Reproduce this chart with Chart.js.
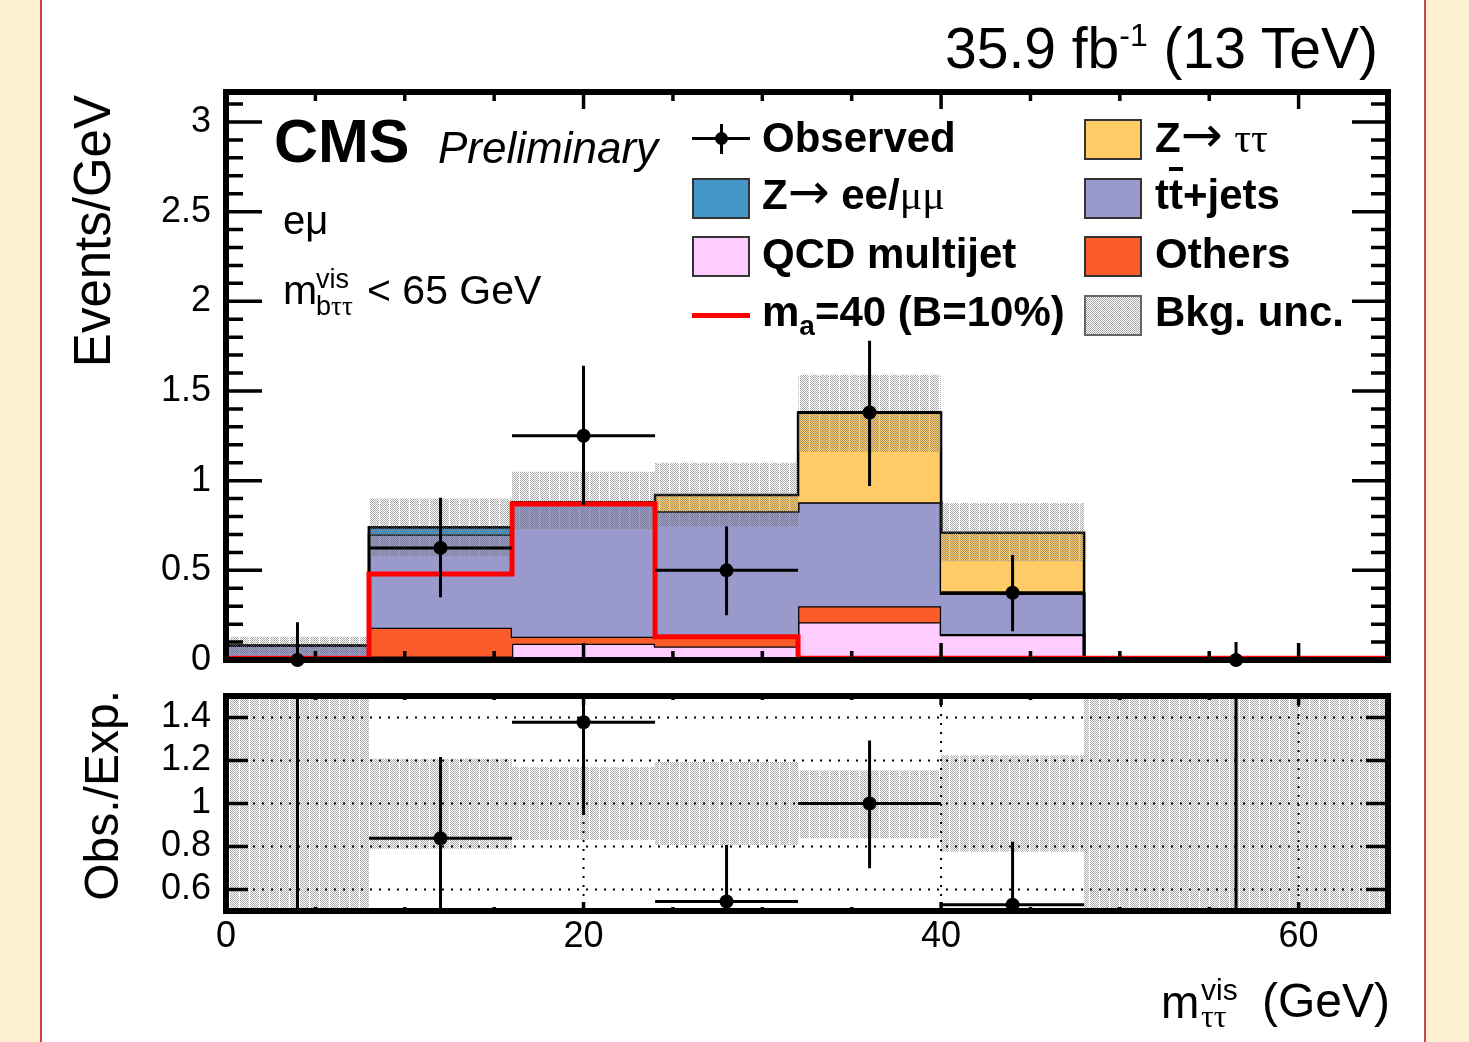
<!DOCTYPE html>
<html>
<head>
<meta charset="utf-8">
<script src="https://cdn.jsdelivr.net/npm/chart.js@4.4.0/dist/chart.umd.min.js"></script>
<style>
  body { margin: 0; width: 1469px; height: 1042px; background: #fdf0d1; position: relative; overflow: hidden;
         font-family: "Liberation Sans", Arial, Helvetica, sans-serif; }
  #sheet { position: absolute; left: 40px; top: 0; width: 1386px; height: 1042px; background: #fff;
           border-left: 2px solid #c8474a; border-right: 2px solid #c8474a; box-sizing: border-box; }
  canvas { position: absolute; left: 0; }
  #main { top: 0; }
  #ratio { top: 680px; }
  .t { position: absolute; white-space: nowrap; line-height: 1; color: #000; z-index: 5; }
  .b { font-weight: bold; }
  .arr { font-family: "DejaVu Sans", sans-serif; font-weight: normal; font-size: 50px; line-height: 0; }
  .sym { font-family: "Liberation Serif", "DejaVu Serif", serif; font-weight: normal; }
  .box { position: absolute; width: 58px; height: 41px; box-sizing: border-box; border: 2px solid #333; z-index: 5; }
  .rot { transform-origin: 0 0; transform: rotate(-90deg); width: 320px; text-align: right; }
</style>
</head>
<body>
<div id="sheet"></div>
<canvas id="main" width="1469" height="700"></canvas>
<canvas id="ratio" width="1469" height="320"></canvas>

<!-- header texts -->
<div class="t" style="right:91px; top:20px; font-size:57px;">35.9 fb<span style="font-size:32px; position:relative; top:-22px; line-height:0;">-1</span> (13 TeV)</div>
<div class="t b" style="left:274px; top:111px; font-size:61px;">CMS</div>
<div class="t" style="left:438px; top:126px; font-size:44px; font-style:italic;">Preliminary</div>
<div class="t" style="left:283px; top:200px; font-size:40px;">eμ</div>
<div class="t" style="left:283px; top:270px; font-size:41px;">m</div>
<div class="t" style="left:316px; top:266px; font-size:27px;">vis</div>
<div class="t" style="left:316px; top:293px; font-size:27px;">b<span class="sym">ττ</span></div>
<div class="t" style="left:367px; top:270px; font-size:41px;">&lt; 65 GeV</div>

<!-- legend -->
<div style="position:absolute; left:692px; top:136.5px; width:58px; height:3px; background:#000; z-index:5;"></div>
<div style="position:absolute; left:719.5px; top:124px; width:3px; height:30px; background:#000; z-index:5;"></div>
<div style="position:absolute; left:714.5px; top:131.5px; width:13px; height:13px; border-radius:50%; background:#000; z-index:5;"></div>
<div class="box" style="left:692px; top:177.5px; background:#4496c8;"></div>
<div class="box" style="left:692px; top:236px; background:#ffccff;"></div>
<div style="position:absolute; left:692px; top:312.5px; width:58px; height:5px; background:#ff0000; z-index:5;"></div>
<div class="box" style="left:1084px; top:119px; background:#fecb66;"></div>
<div class="box" style="left:1084px; top:177.5px; background:#9999cc;"></div>
<div class="box" style="left:1084px; top:236px; background:#fa5c2a;"></div>
<div class="box" style="left:1084px; top:294.5px; border-color:#666; background-color:#fff;
     background-image:repeating-conic-gradient(rgba(110,110,110,0.6) 0 25%, transparent 0 50%); background-size:2px 2px;"></div>

<div class="t b" style="left:762px; top:117px; font-size:42px;">Observed</div>
<div class="t b" style="left:762px; top:174px; font-size:42px;">Z<span class="arr">→</span> ee/<span class="sym">μμ</span></div>
<div class="t b" style="left:762px; top:233px; font-size:42px;">QCD multijet</div>
<div class="t b" style="left:762px; top:291px; font-size:42px;">m<span style="font-size:28px; position:relative; top:9px; line-height:0;">a</span>=40 (B=10%)</div>
<div class="t b" style="left:1155px; top:117px; font-size:42px;">Z<span class="arr">→</span> <span class="sym">ττ</span></div>
<div class="t b" style="left:1155px; top:174px; font-size:42px;">t<span style="text-decoration:overline;">t</span>+jets</div>
<div class="t b" style="left:1155px; top:233px; font-size:42px;">Others</div>
<div class="t b" style="left:1155px; top:291px; font-size:42px;">Bkg. unc.</div>

<!-- axis titles -->
<div class="t rot" style="left:67px; top:415px; font-size:51px;">Events/GeV</div>
<div class="t rot" style="left:78px; top:1010px; font-size:48px;">Obs./Exp.</div>
<div class="t" style="left:1161px; top:979px; font-size:46px;">m</div>
<div class="t" style="left:1201px; top:975px; font-size:30px;">vis</div>
<div class="t sym" style="left:1201px; top:1000px; font-size:32px;">ττ</div>
<div class="t" style="right:79px; top:977px; font-size:48px;">(GeV)</div>

<script>
// bins of m_tautau^vis (GeV)
const binEdges = [0, 8, 16, 24, 32, 40, 48, 65];

// background components, events/GeV per bin (stack order bottom -> top)
const qcdMultijet = [0.00, 0.02, 0.09, 0.075, 0.21, 0.14, 0];
const others      = [0.005, 0.16, 0.04, 0.05, 0.09, 0.005, 0];
const ttJets      = [0.075, 0.52, 0.74, 0.705, 0.58, 0.225, 0];
const zToLL       = [0.00, 0.04, 0.00, 0.00, 0.00, 0.00, 0];
const zToTauTau   = [0.00, 0.00, 0.01, 0.09, 0.50, 0.34, 0];

// background uncertainty band (absolute)
const bkgUncLo = [0.03, 0.58, 0.73, 0.745, 1.16, 0.55, 0];
const bkgUncHi = [0.13, 0.90, 1.05, 1.10, 1.59, 0.875, 0];

// signal m_a = 40 GeV
const signal = [0.01, 0.48, 0.87, 0.13, 0.01, 0.01, 0.01];

// observed data
const obsX     = [4, 12, 20, 28, 36, 44, 56.5];
const obsY     = [0, 0.625, 1.25, 0.50, 1.38, 0.375, 0];
const obsErrLo = [0, 0.275, 0.385, 0.25, 0.41, 0.215, 0];
const obsErrHi = [0.21, 0.28, 0.39, 0.245, 0.40, 0.21, 0.10];

// ratio panel
const ratioY      = [0, 0.838, 1.378, 0.544, 1.0, 0.529, 0];
const ratioErrLo  = [0, 0.5, 0.432, 0.5, 0.301, 0.5, 0];
const ratioErrHi  = [9, 0.378, 0.40, 0.263, 0.293, 0.293, 9];
const ratioUncLo  = [0.3, 0.79, 0.83, 0.807, 0.838, 0.776, 0.3];
const ratioUncHi  = [1.7, 1.208, 1.17, 1.193, 1.154, 1.224, 1.7];

// tick labels
const xTickLabels = [0, 20, 40, 60];
const yTickLabels = [0, 0.5, 1, 1.5, 2, 2.5, 3];
const ratioTickLabels = [0.6, 0.8, 1, 1.2, 1.4];

const FONT = '"Liberation Sans", Arial, Helvetica, sans-serif';

function stepPoints(values) {
  return binEdges.map((e, i) => ({ x: e, y: values[Math.min(i, values.length - 1)] }));
}

function makeHatch() {
  const c = document.createElement('canvas');
  c.width = 10; c.height = 2;
  const g = c.getContext('2d');
  g.fillStyle = 'rgba(110,110,110,0.6)';
  for (let x = 0; x < 9; x++) {
    for (let y = 0; y < 2; y++) {
      if ((x + y) % 2 === 0) g.fillRect(x, y, 1, 1);
    }
  }
  return g.createPattern(c, 'repeat');
}
const hatch = makeHatch();

// inward ROOT-style ticks + frame
const frameTicks = {
  id: 'frameTicks',
  afterDraw(chart, args, opts) {
    const { ctx, chartArea: a, scales: { x, y } } = chart;
    ctx.save();
    ctx.strokeStyle = '#000';
    ctx.lineWidth = 3.5;
    ctx.beginPath();
    opts.xTicks.forEach(([v, len]) => {
      const px = x.getPixelForValue(v);
      ctx.moveTo(px, a.bottom); ctx.lineTo(px, a.bottom - len);
      ctx.moveTo(px, a.top); ctx.lineTo(px, a.top + len);
    });
    opts.yTicks.forEach(([v, len]) => {
      const py = y.getPixelForValue(v);
      ctx.moveTo(a.left, py); ctx.lineTo(a.left + len, py);
      ctx.moveTo(a.right, py); ctx.lineTo(a.right - len, py);
    });
    ctx.stroke();
    ctx.lineWidth = 6;
    ctx.strokeRect(a.left, a.top, a.right - a.left, a.bottom - a.top);
    ctx.restore();
  }
};

// dotted grid of the ratio panel
const dottedGrid = {
  id: 'dottedGrid',
  afterDatasetsDraw(chart) {
    const { ctx, chartArea: a, scales: { x, y } } = chart;
    ctx.save();
    ctx.strokeStyle = '#000';
    ctx.lineWidth = 2;
    ctx.setLineDash([2, 7]);
    ctx.beginPath();
    ratioTickLabels.forEach(v => {
      const py = y.getPixelForValue(v);
      ctx.moveTo(a.left, py); ctx.lineTo(a.right, py);
    });
    xTickLabels.filter(v => v > 0).forEach(v => {
      const px = x.getPixelForValue(v);
      ctx.moveTo(px, a.top); ctx.lineTo(px, a.bottom);
    });
    ctx.stroke();
    ctx.restore();
  }
};

// x and y error bars for datasets carrying errLo/errHi
const errorBars = {
  id: 'errorBars',
  afterDatasetsDraw(chart) {
    const { ctx, chartArea: a, scales: { x, y } } = chart;
    ctx.save();
    ctx.beginPath();
    ctx.rect(a.left, a.top, a.right - a.left, a.bottom - a.top);
    ctx.clip();
    ctx.strokeStyle = '#000';
    ctx.lineWidth = 3;
    chart.data.datasets.forEach(ds => {
      if (!ds.errLo) return;
      ds.data.forEach((p, i) => {
        const px = x.getPixelForValue(p.x);
        const py = y.getPixelForValue(p.y);
        ctx.beginPath();
        ctx.moveTo(x.getPixelForValue(binEdges[i]), py);
        ctx.lineTo(x.getPixelForValue(binEdges[i + 1]), py);
        ctx.moveTo(px, y.getPixelForValue(p.y - ds.errLo[i]));
        ctx.lineTo(px, y.getPixelForValue(p.y + ds.errHi[i]));
        ctx.stroke();
      });
    });
    ctx.restore();
  }
};

// build tick mark lists
const topXTicks = [], topYTicks = [], ratioXTicks = [], ratioYTicks = [];
for (let v = 5; v < 65; v += 5) {
  topXTicks.push([v, v % 20 === 0 ? 17 : 9]);
  ratioXTicks.push([v, v % 20 === 0 ? 9 : 4]);
}
for (let k = 1; k <= 31; k++) topYTicks.push([k / 10, k % 5 === 0 ? 36 : 17]);
ratioTickLabels.forEach(v => ratioYTicks.push([v, 22]));

// cumulative stack
const layers = [qcdMultijet, others, ttJets, zToLL, zToTauTau];
const layerColors = ['#ffccff', '#fa5c2a', '#9999cc', '#4496c8', '#fecb66'];
let acc = binEdges.slice(0, -1).map(() => 0);
const stackTops = layers.map(layer => (acc = acc.map((v, i) => v + layer[i])));

const mainDatasets = stackTops.map((vals, k) => ({
  data: stepPoints(vals),
  stepped: true,
  fill: k === 0 ? 'origin' : '-1',
  backgroundColor: layerColors[k],
  borderColor: '#000',
  borderWidth: 2.5,
  pointRadius: 0,
  order: 20 - k
}));
mainDatasets.push({
  data: stepPoints(bkgUncLo), stepped: true, fill: false,
  borderWidth: 0, borderColor: 'rgba(0,0,0,0)', pointRadius: 0, order: 10
});
mainDatasets.push({
  data: stepPoints(bkgUncHi), stepped: true, fill: '-1', backgroundColor: hatch,
  borderWidth: 0, borderColor: 'rgba(0,0,0,0)', pointRadius: 0, order: 9
});
mainDatasets.push({
  data: stepPoints(signal), stepped: true, fill: false,
  borderColor: '#ff0000', borderWidth: 5, pointRadius: 0, order: 5
});
mainDatasets.push({
  data: obsX.map((x, i) => ({ x, y: obsY[i] })),
  errLo: obsErrLo, errHi: obsErrHi,
  showLine: false, pointRadius: 7, pointBackgroundColor: '#000', pointBorderWidth: 0,
  clip: false, order: 1
});

const tickFont = { family: FONT, size: 36 };

// keep the plot frames where they are: no automatic label padding
function fixWidth(s) {
  s.width = 226;
  s.paddingTop = 0; s.paddingBottom = 0;
}
function fixHeight(s) {
  s.height = 89;
  s.paddingLeft = 0; s.paddingRight = 0;
}

new Chart(document.getElementById('main'), {
  type: 'line',
  data: { datasets: mainDatasets },
  options: {
    responsive: false,
    animation: false,
    events: [],
    layout: { padding: { left: 0, top: 92, right: 81, bottom: 40 } },
    plugins: {
      legend: { display: false },
      tooltip: { enabled: false },
      frameTicks: { xTicks: topXTicks, yTicks: topYTicks }
    },
    scales: {
      x: { type: 'linear', min: 0, max: 65, display: false },
      y: {
        type: 'linear', min: 0, max: 3.167,
        grid: { display: false, drawTicks: false },
        border: { display: false },
        afterBuildTicks: s => { s.ticks = yTickLabels.map(v => ({ value: v })); },
        afterFit: fixWidth,
        ticks: { font: tickFont, color: '#000', padding: 15, callback: v => String(v) }
      }
    }
  },
  plugins: [errorBars, frameTicks]
});

new Chart(document.getElementById('ratio'), {
  type: 'line',
  data: {
    datasets: [
      { data: stepPoints(ratioUncLo), stepped: true, fill: false,
        borderWidth: 0, borderColor: 'rgba(0,0,0,0)', pointRadius: 0, order: 10 },
      { data: stepPoints(ratioUncHi), stepped: true, fill: '-1', backgroundColor: hatch,
        borderWidth: 0, borderColor: 'rgba(0,0,0,0)', pointRadius: 0, order: 9 },
      { data: obsX.map((x, i) => ({ x, y: ratioY[i] })),
        errLo: ratioErrLo, errHi: ratioErrHi,
        showLine: false, pointRadius: 7, pointBackgroundColor: '#000', pointBorderWidth: 0, order: 1 }
    ]
  },
  options: {
    responsive: false,
    animation: false,
    events: [],
    layout: { padding: { left: 0, top: 16, right: 81, bottom: 0 } },
    plugins: {
      legend: { display: false },
      tooltip: { enabled: false },
      frameTicks: { xTicks: ratioXTicks, yTicks: ratioYTicks }
    },
    scales: {
      x: {
        type: 'linear', min: 0, max: 65,
        grid: { display: false, drawTicks: false },
        border: { display: false },
        afterBuildTicks: s => { s.ticks = xTickLabels.map(v => ({ value: v })); },
        afterFit: fixHeight,
        ticks: { font: tickFont, color: '#000', padding: 4, maxRotation: 0, autoSkip: false, callback: v => String(v) }
      },
      y: {
        type: 'linear', min: 0.5, max: 1.5,
        grid: { display: false, drawTicks: false },
        border: { display: false },
        afterBuildTicks: s => { s.ticks = ratioTickLabels.map(v => ({ value: v })); },
        afterFit: fixWidth,
        ticks: { font: tickFont, color: '#000', padding: 15, callback: v => String(v) }
      }
    }
  },
  plugins: [dottedGrid, errorBars, frameTicks]
});
</script>
</body>
</html>
